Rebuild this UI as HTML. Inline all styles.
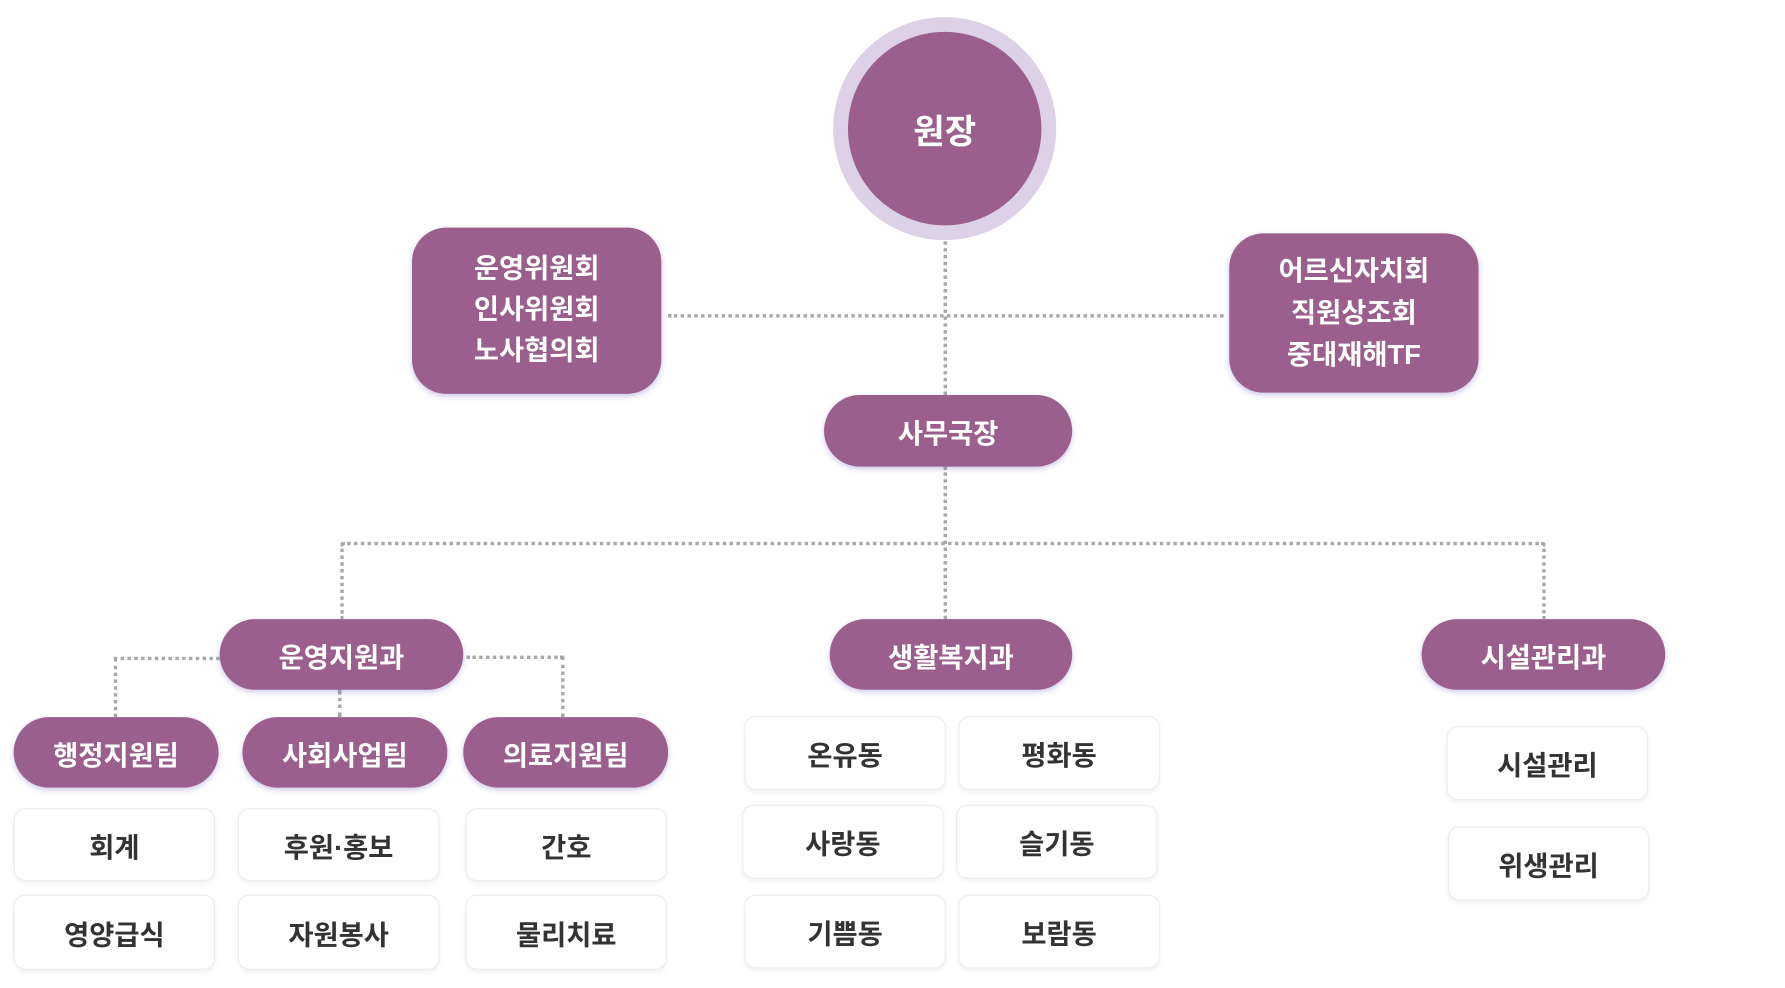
<!DOCTYPE html>
<html><head><meta charset="utf-8"><style>
html,body{margin:0;padding:0;background:#fff;width:1785px;height:988px;overflow:hidden}
#w{position:absolute;left:0;top:0;width:1560px;height:864px;transform:scale(1.1382);transform-origin:0 0;font-family:"Liberation Sans","Noto Sans CJK KR",sans-serif}
.p{position:absolute;background:#9a5f8c;color:#fff;font-weight:bold;font-size:24px;display:flex;align-items:center;justify-content:center;text-align:center;box-shadow:0 2px 5px rgba(120,100,200,.35);border-radius:32px}
.b{position:absolute;background:#fff;color:#333;font-weight:bold;font-size:24px;display:flex;align-items:center;justify-content:center;border:1px solid #ececec;border-radius:10px;box-shadow:0 2px 4px rgba(0,0,0,.06)}
.h{position:absolute;border-top:3px dotted #a8a8a8;height:0}
.v{position:absolute;border-left:3px dotted #a8a8a8;width:0}
</style></head><body><div id="w">
<div class="h" style="left:587px;top:276px;width:488px"></div>
<div class="v" style="left:829px;top:205px;height:142px"></div>
<div class="v" style="left:829px;top:410px;height:134px"></div>
<div class="h" style="left:300px;top:476px;width:1057px"></div>
<div class="v" style="left:299px;top:477px;height:67px"></div>
<div class="v" style="left:1355px;top:477px;height:67px"></div>
<div class="h" style="left:100px;top:577px;width:93px"></div>
<div class="v" style="left:100px;top:578px;height:52px"></div>
<div class="h" style="left:410px;top:576px;width:85px"></div>
<div class="v" style="left:493px;top:577px;height:53px"></div>
<div class="v" style="left:297px;top:606px;height:24px"></div>

<div style="position:absolute;left:732px;top:15px;width:196px;height:196px;border-radius:50%;background:#dcd1e6"></div>
<div class="p" style="left:745px;top:28px;width:170px;height:170px;border-radius:50%;font-size:30px;box-shadow:none">원장</div>
<div class="p" style="left:362px;top:200px;width:219px;height:146px;border-radius:30px;line-height:36px">운영위원회<br>인사위원회<br>노사협의회</div>
<div class="p" style="left:1080px;top:205px;width:219px;height:140px;border-radius:30px;line-height:37px">어르신자치회<br>직원상조회<br>중대재해TF</div>
<div class="p" style="left:724px;top:347px;width:218px;height:63px">사무국장</div>
<div class="p" style="left:193px;top:544px;width:214px;height:62px">운영지원과</div>
<div class="p" style="left:729px;top:544px;width:213px;height:62px">생활복지과</div>
<div class="p" style="left:1249px;top:544px;width:214px;height:62px">시설관리과</div>
<div class="p" style="left:12px;top:630px;width:180px;height:62px">행정지원팀</div>
<div class="p" style="left:213px;top:630px;width:180px;height:62px">사회사업팀</div>
<div class="p" style="left:407px;top:630px;width:180px;height:62px">의료지원팀</div>

<div class="b" style="left:12px;top:710px;width:175px;height:62px">회계</div>
<div class="b" style="left:209px;top:710px;width:175px;height:62px">후원·홍보</div>
<div class="b" style="left:409px;top:710px;width:175px;height:62px">간호</div>
<div class="b" style="left:12px;top:786px;width:175px;height:64px">영양급식</div>
<div class="b" style="left:209px;top:786px;width:175px;height:64px">자원봉사</div>
<div class="b" style="left:409px;top:786px;width:175px;height:64px">물리치료</div>

<div class="b" style="left:654px;top:629px;width:175px;height:63px">온유동</div>
<div class="b" style="left:842px;top:629px;width:175px;height:63px">평화동</div>
<div class="b" style="left:652px;top:707px;width:175px;height:63px">사랑동</div>
<div class="b" style="left:840px;top:707px;width:175px;height:63px">슬기동</div>
<div class="b" style="left:654px;top:786px;width:175px;height:63px">기쁨동</div>
<div class="b" style="left:842px;top:786px;width:175px;height:63px">보람동</div>

<div class="b" style="left:1271px;top:638px;width:175px;height:63px">시설관리</div>
<div class="b" style="left:1272px;top:726px;width:175px;height:63px">위생관리</div>
</div></body></html>
